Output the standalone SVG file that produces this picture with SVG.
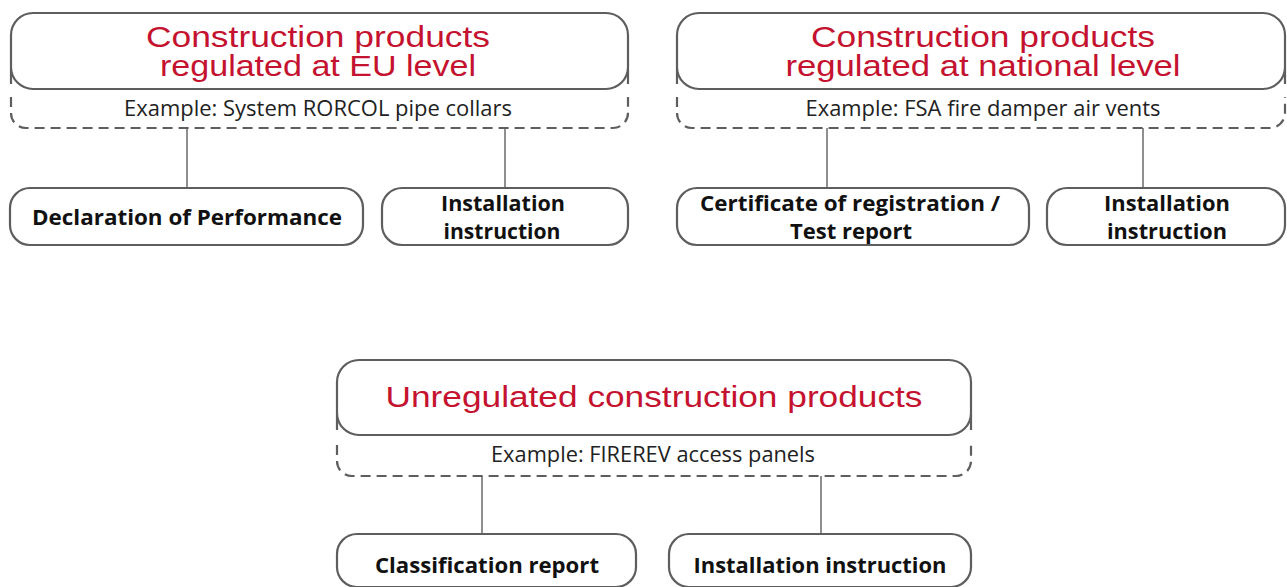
<svg xmlns="http://www.w3.org/2000/svg" width="1287" height="587" viewBox="0 0 1287 587">
  <style>
    .box { fill: #ffffff; stroke: #5e5e5e; stroke-width: 2.2; }
    .dash { fill: none; stroke: #5e5e5e; stroke-width: 2.2; stroke-dasharray: 10 6; }
    .edge { fill: none; stroke: #5e5e5e; stroke-width: 2.2; }
    .link { stroke: #6a6a6a; stroke-width: 1.5; fill: none; }
    .title { font-family: "Liberation Sans", Arial, sans-serif; font-size: 29px; fill: #c4122f; text-anchor: middle; }
    .example { font-family: "Open Sans", "Liberation Sans", sans-serif; font-weight: 400; font-size: 21.5px; fill: #222222; text-anchor: middle; }
    .doc { font-family: "Open Sans", "Liberation Sans", sans-serif; font-weight: 700; font-size: 22px; fill: #111111; text-anchor: middle; }
  </style>

  <!-- connectors from each category to its documents -->
  <g id="connectors">
    <line class="link" x1="187" y1="128" x2="187" y2="188"/>
    <line class="link" x1="505" y1="128" x2="505" y2="188"/>
    <line class="link" x1="827" y1="128" x2="827" y2="188"/>
    <line class="link" x1="1143" y1="128" x2="1143" y2="188"/>
    <line class="link" x1="482" y1="476" x2="482" y2="534"/>
    <line class="link" x1="821" y1="476" x2="821" y2="534"/>
  </g>

  <!-- category: EU level -->
  <g id="eu-level">
    <path class="edge" d="M11,68 V84 M628,68 V84"/>
    <path class="dash" d="M11,97 V113 A15,15 0 0 0 26,128 H613 A15,15 0 0 0 628,113 V97"/>
    <rect class="box" x="11" y="13" width="617" height="76" rx="22"/>
    <text class="title" x="318" y="47" textLength="344" lengthAdjust="spacingAndGlyphs">Construction products</text>
    <text class="title" x="318" y="76" textLength="316" lengthAdjust="spacingAndGlyphs">regulated at EU level</text>
    <text class="example" x="318" y="116" textLength="388" lengthAdjust="spacingAndGlyphs">Example: System RORCOL pipe collars</text>
  </g>

  <!-- category: national level -->
  <g id="national-level">
    <path class="edge" d="M677,68 V84 M1285,68 V84"/>
    <path class="dash" d="M677,97 V113 A15,15 0 0 0 692,128 H1270 A15,15 0 0 0 1285,113 V97"/>
    <rect class="box" x="677" y="13" width="608" height="76" rx="22"/>
    <text class="title" x="983" y="47" textLength="344" lengthAdjust="spacingAndGlyphs">Construction products</text>
    <text class="title" x="983" y="76" textLength="395" lengthAdjust="spacingAndGlyphs">regulated at national level</text>
    <text class="example" x="983" y="116" textLength="355" lengthAdjust="spacingAndGlyphs">Example: FSA fire damper air vents</text>
  </g>

  <!-- category: unregulated -->
  <g id="unregulated">
    <path class="edge" d="M337,414 V430 M971,414 V430"/>
    <path class="dash" d="M337,445 V461 A15,15 0 0 0 352,476 H956 A15,15 0 0 0 971,461 V445"/>
    <rect class="box" x="337" y="360" width="634" height="75" rx="22"/>
    <text class="title" x="654" y="407" textLength="537" lengthAdjust="spacingAndGlyphs">Unregulated construction products</text>
    <text class="example" x="653" y="462" textLength="324" lengthAdjust="spacingAndGlyphs">Example: FIREREV access panels</text>
  </g>

  <!-- documents -->
  <g id="declaration-of-performance">
    <rect class="box" x="10" y="188" width="353" height="57" rx="20"/>
    <text class="doc" x="187" y="225" textLength="310" lengthAdjust="spacingAndGlyphs">Declaration of Performance</text>
  </g>
  <g id="installation-eu">
    <rect class="box" x="382" y="188" width="246" height="57" rx="20"/>
    <text class="doc" x="503" y="211" textLength="124" lengthAdjust="spacingAndGlyphs">Installation</text>
    <text class="doc" x="502" y="239" textLength="117" lengthAdjust="spacingAndGlyphs">instruction</text>
  </g>
  <g id="certificate">
    <rect class="box" x="677" y="188" width="352" height="57" rx="20"/>
    <text class="doc" x="850" y="211" textLength="300" lengthAdjust="spacingAndGlyphs">Certificate of registration /</text>
    <text class="doc" x="851" y="239" textLength="122" lengthAdjust="spacingAndGlyphs">Test report</text>
  </g>
  <g id="installation-national">
    <rect class="box" x="1047" y="188" width="238" height="57" rx="20"/>
    <text class="doc" x="1167" y="211" textLength="126" lengthAdjust="spacingAndGlyphs">Installation</text>
    <text class="doc" x="1167" y="239" textLength="120" lengthAdjust="spacingAndGlyphs">instruction</text>
  </g>
  <g id="classification-report">
    <rect class="box" x="337" y="534" width="299" height="53" rx="20"/>
    <text class="doc" x="487" y="573" textLength="224" lengthAdjust="spacingAndGlyphs">Classification report</text>
  </g>
  <g id="installation-unregulated">
    <rect class="box" x="669" y="534" width="302" height="53" rx="20"/>
    <text class="doc" x="820" y="573" textLength="253" lengthAdjust="spacingAndGlyphs">Installation instruction</text>
  </g>
</svg>
